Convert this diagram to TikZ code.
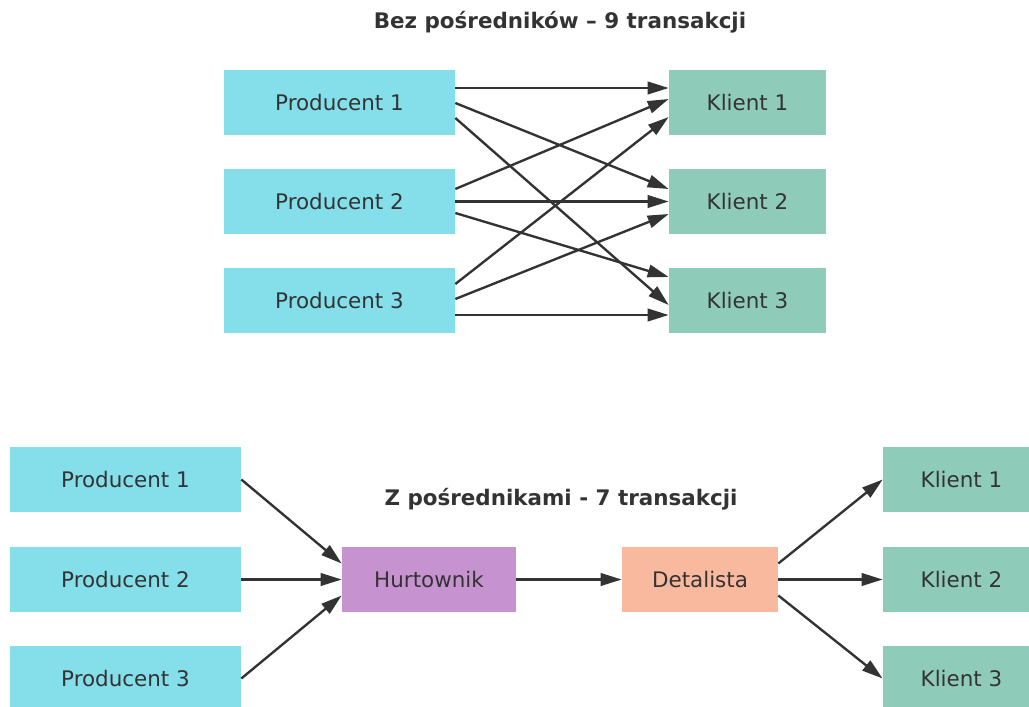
\documentclass[tikz,border=0pt]{standalone}
\usepackage{fontspec}
\setmainfont{DejaVu Sans}
\usepackage{tikz}
\usetikzlibrary{arrows.meta, calc}

\definecolor{inkgray}{HTML}{333333}
\definecolor{prodfill}{HTML}{84DFEB}
\definecolor{clientfill}{HTML}{8FCBB9}
\definecolor{wholefill}{HTML}{C792D0}
\definecolor{retailfill}{HTML}{F9B99F}

\begin{document}
\begin{tikzpicture}[
    x=0.02cm, y=-0.02cm,
    font=\fontsize{12.2}{14}\selectfont, text=inkgray,
    box/.style={rectangle, minimum height=1.3cm, inner sep=0pt},
    prod/.style={box, fill=prodfill, minimum width=4.62cm},
    client/.style={box, fill=clientfill, minimum width=3.14cm},
    whole/.style={box, fill=wholefill, minimum width=3.48cm},
    retail/.style={box, fill=retailfill, minimum width=3.12cm},
    heading/.style={font=\fontsize{12.2}{14}\selectfont\bfseries},
    flow/.style={-{Triangle[length=4.2mm, width=2.5mm]}, line width=1.35pt, draw=inkgray}
]
    \clip (0,0) rectangle (1029,707);

    % Without intermediaries
    \node[heading] (title1) at (560,22) {Bez pośredników – 9 transakcji};

    \node[prod] (p1) at (339.5,102.5) {Producent 1};
    \node[prod] (p2) at (339.5,201.5) {Producent 2};
    \node[prod] (p3) at (339.5,300.5) {Producent 3};

    \node[client] (k1) at (747.5,102.5) {Klient 1};
    \node[client] (k2) at (747.5,201.5) {Klient 2};
    \node[client] (k3) at (747.5,300.5) {Klient 3};

    \draw[flow] ($(p1.east)+(0,-14.5)$) -- ($(k1.west)+(0,-14.5)$);
    \draw[flow] ($(p1.east)+(0,0.5)$) -- ($(k2.west)+(0,-12.5)$);
    \draw[flow] ($(p1.east)+(0,15.5)$) -- ($(k3.west)+(0,4.5)$);

    \draw[flow] ($(p2.east)+(0,-12.5)$) -- ($(k1.west)+(0,-3.5)$);
    \draw[flow] (p2.east) -- (k2.west);
    \draw[flow] ($(p2.east)+(0,11.5)$) -- ($(k3.west)+(0,-23.5)$);

    \draw[flow] ($(p3.east)+(0,-16.5)$) -- ($(k1.west)+(0,14.5)$);
    \draw[flow] ($(p3.east)+(0,-1.5)$) -- ($(k2.west)+(0,12.5)$);
    \draw[flow] ($(p3.east)+(0,14.5)$) -- ($(k3.west)+(0,14.5)$);

    % With intermediaries
    \node[heading] (title2) at (561,499) {Z pośrednikami - 7 transakcji};

    \node[prod] (q1) at (125.5,479.5) {Producent 1};
    \node[prod] (q2) at (125.5,579.5) {Producent 2};
    \node[prod] (q3) at (125.5,678.5) {Producent 3};

    \node[whole] (hurt) at (429,579.5) {Hurtownik};
    \node[retail] (det) at (700,579.5) {Detalista};

    \node[client] (c1) at (961.5,479.5) {Klient 1};
    \node[client] (c2) at (961.5,579.5) {Klient 2};
    \node[client] (c3) at (961.5,678.5) {Klient 3};

    \draw[flow] (q1.east) -- ($(hurt.west)+(0,-16)$);
    \draw[flow] (q2.east) -- (hurt.west);
    \draw[flow] (q3.east) -- ($(hurt.west)+(0,16)$);

    \draw[flow] (hurt.east) -- (det.west);

    \draw[flow] ($(det.east)+(0,-16)$) -- (c1.west);
    \draw[flow] (det.east) -- (c2.west);
    \draw[flow] ($(det.east)+(0,16)$) -- (c3.west);
\end{tikzpicture}
\end{document}
